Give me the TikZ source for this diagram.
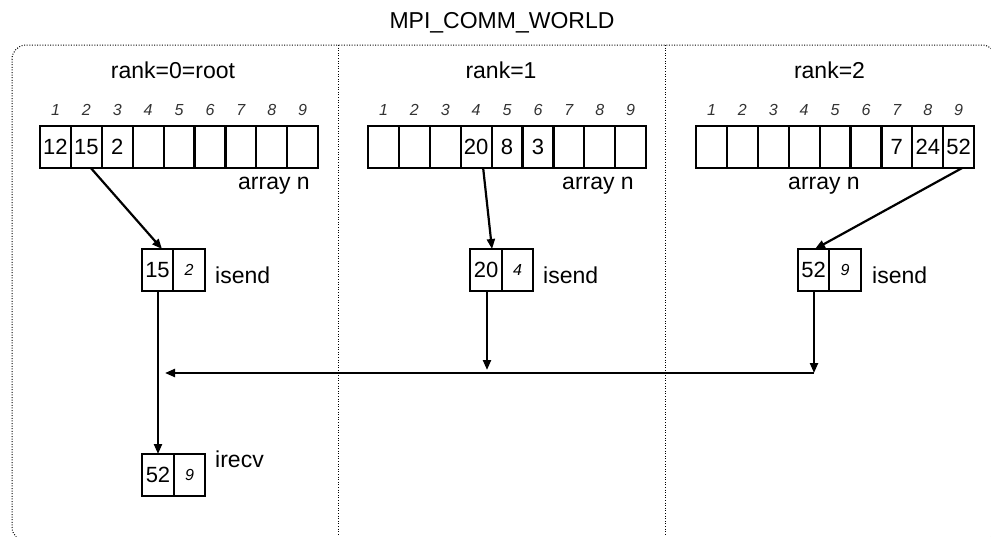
\documentclass[tikz,border=0pt]{standalone}
\usepackage{fontspec}
\setmainfont{Liberation Sans}
\usetikzlibrary{arrows.meta}
\begin{document}
\begin{tikzpicture}[x=1pt,y=-1pt,
  cellbox/.style={draw, line width=2.2pt, minimum width=30.9pt, minimum height=42pt,
    inner sep=0pt, outer sep=0pt, font=\fontsize{22}{24}\selectfont},
  halfbox/.style={draw, line width=2.2pt, minimum width=31.5pt, minimum height=42pt,
    inner sep=0pt, outer sep=0pt, font=\fontsize{22}{24}\selectfont},
  idxtext/.style={inner sep=0pt, anchor=base, text=black!80,
    font=\fontsize{16}{18}\selectfont\itshape},
  valtext/.style={font=\fontsize{22}{24}\selectfont},
  lbl/.style={inner sep=0pt, font=\fontsize{23}{26}\selectfont},
  flow/.style={line width=2.2pt, -{Triangle[length=10pt,width=8pt]}},
  sep/.style={line width=1pt, dash pattern=on 1pt off 1.6pt}]

\useasboundingbox (0,0) rectangle (991,536);

% communicator frame and process columns
\draw[sep, rounded corners=14pt] (12,45) rectangle (996,541);
\draw[sep] (338,45) -- (338,536);
\draw[sep] (665,45) -- (665,536);

\node[lbl, anchor=base] (title) at (502,28) {MPI\_COMM\_WORLD};

% column headings
\node[lbl, anchor=base] (r0) at (173,78) {rank=0=root};
\node[lbl, anchor=base] (r1) at (501,78) {rank=1};
\node[lbl, anchor=base] (r2) at (829.5,78) {rank=2};

% the three arrays with their index rows
\foreach \p/\left in {0/40, 1/368, 2/696} {
  \foreach \i in {1,...,9} {
    \node[cellbox] (a\p-\i) at ({\left+30.9*(\i-0.5)},147) {};
    \node[idxtext] (ix\p-\i) at ({\left+30.9*(\i-0.5)},115) {\i};
  }
}
\node[valtext] (v0-1) at (a0-1) {12};
\node[valtext] (v0-2) at (a0-2) {15};
\node[valtext] (v0-3) at (a0-3) {2};
\node[valtext] (v1-4) at (a1-4) {20};
\node[valtext] (v1-5) at (a1-5) {8};
\node[valtext] (v1-6) at (a1-6) {3};
\node[valtext] (v2-7) at (a2-7) {7};
\node[valtext] (v2-8) at (a2-8) {24};
\node[valtext] (v2-9) at (a2-9) {52};

\node[lbl, anchor=base] (n0) at (274,189) {array n};
\node[lbl, anchor=base] (n1) at (598,189) {array n};
\node[lbl, anchor=base] (n2) at (824,189) {array n};

% isend buffers: value and index
\node[halfbox] (s0v) at (157.5,270) {15};
\node[halfbox, anchor=west, font=\fontsize{16}{18}\selectfont\itshape] (s0i) at (s0v.east) {2};
\node[halfbox] (s1v) at (486,270) {20};
\node[halfbox, anchor=west, font=\fontsize{16}{18}\selectfont\itshape] (s1i) at (s1v.east) {4};
\node[halfbox] (s2v) at (813.5,270) {52};
\node[halfbox, anchor=west, font=\fontsize{16}{18}\selectfont\itshape] (s2i) at (s2v.east) {9};

\node[lbl, anchor=base west] (t0) at (215,283) {isend};
\node[lbl, anchor=base west] (t1) at (543,283) {isend};
\node[lbl, anchor=base west] (t2) at (872,283) {isend};

% irecv buffer on the root
\node[halfbox] (rv) at (158,475) {52};
\node[halfbox, anchor=west, font=\fontsize{16}{18}\selectfont\itshape] (ri) at (rv.east) {9};
\node[lbl, anchor=base west] (tr) at (215,467) {irecv};

% copies from the arrays into the send buffers
\draw[flow] ([xshift=4.5pt]a0-2.south) -- ([xshift=4.5pt]s0v.north);
\draw[flow] ([xshift=7pt]a1-4.south) -- ([xshift=6pt]s1v.north);
\draw[flow] ([xshift=3.5pt]a2-9.south) -- ([xshift=1.5pt]s2v.north);

% messages to the root
\coordinate (j1) at (487,370);
\coordinate (j2) at (814,373);
\coordinate (j0) at (165,373);
\draw[flow] (s0v.south -| rv.north) -- (rv.north);
\draw[flow] (s1v.south -| j1) -- (j1);
\draw[flow] (s2v.south -| j2) -- (j2);
\draw[flow] (j2) -- (j0);
\end{tikzpicture}
\end{document}
